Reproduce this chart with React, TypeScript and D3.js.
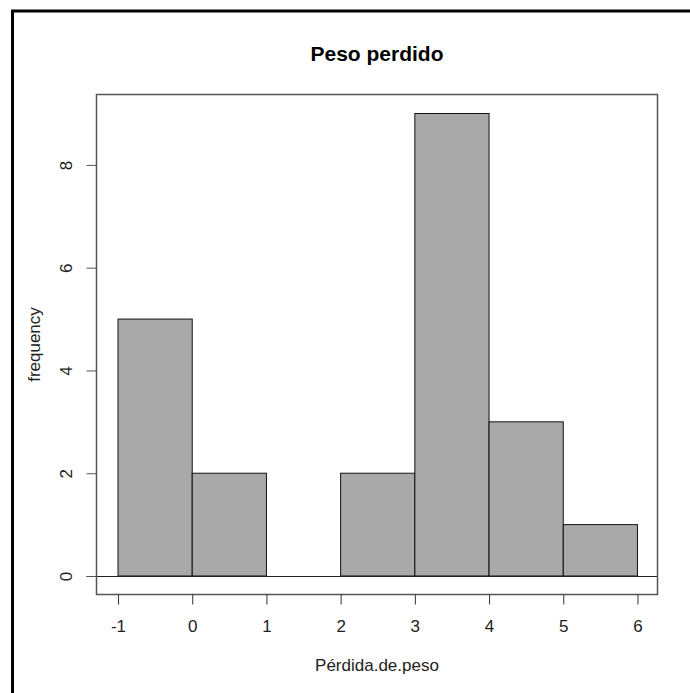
import React, { useEffect, useRef } from "react";
import * as d3 from "d3";

// Histogram of weight lost

const binStarts = [-1, 0, 1, 2, 3, 4, 5];
const binWidth = 1;
const counts = [5, 2, 0, 2, 9, 3, 1];
const xTicks = [-1, 0, 1, 2, 3, 4, 5, 6];
const yTicks = [0, 2, 4, 6, 8];

const FONT = "Liberation Sans, Arial, sans-serif";

export default function App() {
  const ref = useRef<SVGSVGElement>(null);

  useEffect(() => {
    const svg = d3.select(ref.current);
    svg.selectAll("*").remove();

    const box = { left: 96.5, right: 657.5, top: 94.5, bottom: 594.5 };

    const x = d3.scaleLinear().domain([-1.29, 6.27]).range([box.left, box.right]);
    const y = d3.scaleLinear().domain([-0.36, 9.37]).range([box.bottom, box.top]);

    // outer frame (top + left edges visible)
    svg.append("path")
      .attr("d", "M12.5,693 L12.5,11 L690,11")
      .attr("fill", "none")
      .attr("stroke", "#000")
      .attr("stroke-width", 3);

    // bars
    svg.selectAll("rect.bar")
      .data(binStarts.map((s, i) => ({ s, c: counts[i] })).filter(d => d.c > 0))
      .join("rect")
      .attr("class", "bar")
      .attr("x", d => x(d.s))
      .attr("y", d => y(d.c))
      .attr("width", d => x(d.s + binWidth) - x(d.s))
      .attr("height", d => y(0) - y(d.c))
      .attr("fill", "#a9a9a9")
      .attr("stroke", "#111")
      .attr("stroke-width", 1);

    // baseline at 0
    svg.append("line")
      .attr("x1", box.left - 10).attr("x2", box.right)
      .attr("y1", Math.round(y(0)) + 0.5).attr("y2", Math.round(y(0)) + 0.5)
      .attr("stroke", "#222");

    // plot box
    svg.append("rect")
      .attr("x", box.left).attr("y", box.top)
      .attr("width", box.right - box.left).attr("height", box.bottom - box.top)
      .attr("fill", "none")
      .attr("stroke", "#555")
      .attr("stroke-width", 1.5);

    // x axis
    const xAxis = d3.axisBottom(x).tickValues(xTicks).tickSize(10).tickFormat(d => String(d));
    const gx = svg.append("g").attr("transform", `translate(0,${box.bottom})`).call(xAxis);
    gx.select(".domain").remove();
    gx.selectAll("line").attr("stroke", "#333");
    gx.selectAll("text")
      .attr("font-family", FONT)
      .attr("font-size", 17)
      .attr("fill", "#222")
      .attr("y", 37.5)
      .attr("dy", null);

    // y axis
    const yAxis = d3.axisLeft(y).tickValues(yTicks).tickSize(10).tickFormat(d => String(d));
    const gy = svg.append("g").attr("transform", `translate(${box.left},0)`).call(yAxis);
    gy.select(".domain").remove();
    gy.selectAll("line").attr("stroke", "#555");
    gy.selectAll("text")
      .attr("font-family", FONT)
      .attr("font-size", 17)
      .attr("fill", "#222")
      .attr("text-anchor", "middle")
      .attr("dy", null)
      .attr("x", null)
      .attr("transform", "translate(-24.5,0) rotate(-90)");

    // title
    svg.append("text")
      .attr("x", (box.left + box.right) / 2)
      .attr("y", 61)
      .attr("text-anchor", "middle")
      .attr("font-family", FONT)
      .attr("font-weight", "bold")
      .attr("font-size", 21)
      .attr("fill", "#000")
      .text("Peso perdido");

    // x label
    svg.append("text")
      .attr("x", (box.left + box.right) / 2)
      .attr("y", 671)
      .attr("text-anchor", "middle")
      .attr("font-family", FONT)
      .attr("font-size", 17)
      .attr("fill", "#222")
      .text("Pérdida.de.peso");

    // y label
    svg.append("text")
      .attr("transform", `translate(40,${(box.top + box.bottom) / 2}) rotate(-90)`)
      .attr("text-anchor", "middle")
      .attr("font-family", FONT)
      .attr("font-size", 17)
      .attr("fill", "#222")
      .text("frequency");
  }, []);

  return (
    <div style={{ position: "absolute", left: 0, top: 0 }}>
      <svg ref={ref} width={690} height={693} style={{ display: "block", background: "#fff" }} />
    </div>
  );
}
